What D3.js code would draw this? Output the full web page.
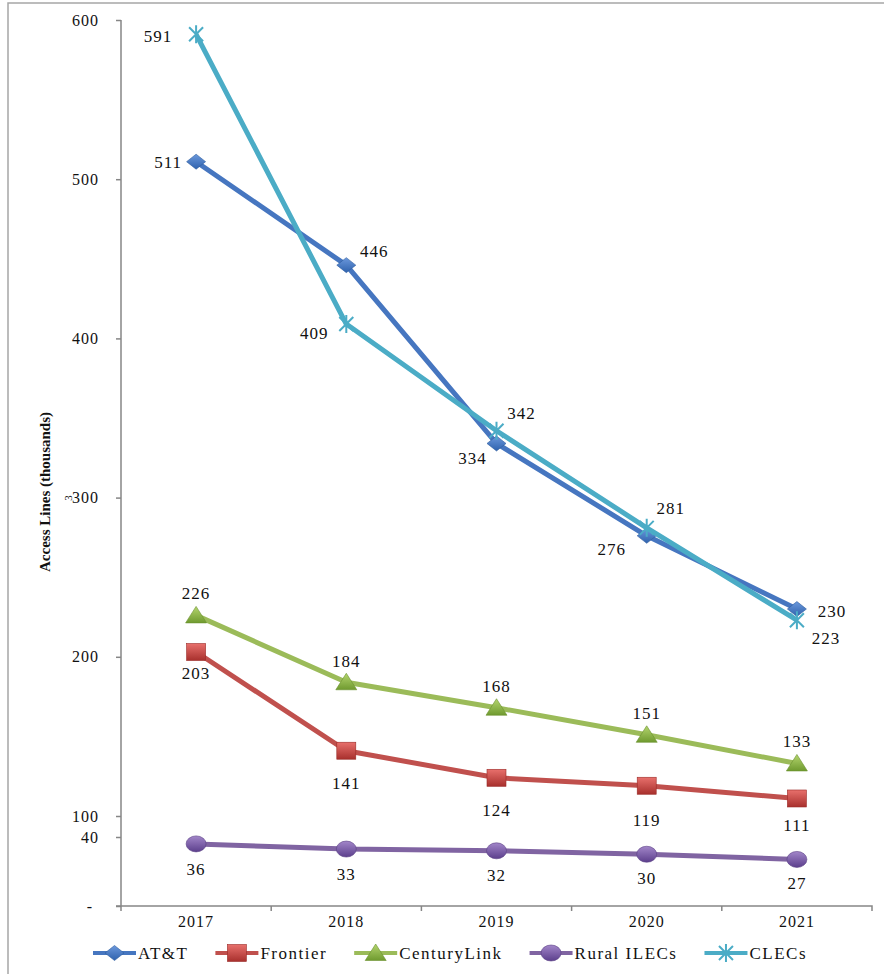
<!DOCTYPE html>
<html>
<head>
<meta charset="utf-8">
<script src="https://cdn.jsdelivr.net/npm/d3@7"></script>
<style>
  body { margin: 0; background: #fff; }
  svg { display: block; }
  svg text { font-family: "Liberation Serif", "Times New Roman", "DejaVu Serif", serif; fill: #111; }
</style>
</head>
<body>
<div id="chart"></div>
<script>
var years = ["2017", "2018", "2019", "2020", "2021"];
var att = [511, 446, 334, 276, 230];
var frontier = [203, 141, 124, 119, 111];
var centuryLink = [226, 184, 168, 151, 133];
var ruralIlecs = [36, 33, 32, 30, 27];
var clecs = [591, 409, 342, 281, 223];
var seriesNames = ["AT&T", "Frontier", "CenturyLink", "Rural ILECs", "CLECs"];
var yTicks = [0, 40, 100, 200, 300, 400, 500, 600];
var yTickLabels = ["-", "40", "100", "200", "300", "400", "500", "600"];

var w = 884, h = 974;
var colors = ["#4676c0", "#c0504d", "#9bbb59", "#8064a2", "#4bacc6"];
var allSeries = [att, frontier, centuryLink, ruralIlecs, clecs];
var serif = "'Liberation Serif', 'Times New Roman', serif";

// label offsets (dx, dy) from each point
var labelOffsets = [
  [[-28, 0], [28, -14], [-24, 15], [-35, 13], [35, 2]],
  [[0, 21], [0, 32], [0, 32], [0, 34], [0, 27]],
  [[0, -22], [0, -21], [0, -22], [0, -22], [0, -22]],
  [[0, 25], [0, 25], [0, 24], [0, 24], [0, 24]],
  [[-38, 2], [-32, 9], [25, -18], [24, -20], [29, 18]]
];

var svg = d3.select("#chart")
  .append("svg")
  .attr("width", w)
  .attr("height", h)
  .style("font-family", serif);

var defs = svg.append("defs");
var grads = [["#6b98dc", "#2f62ad"], ["#e8706c", "#a8302d"], ["#b4d56e", "#6f9a2f"],
             ["#a286c9", "#5c3f8c"], ["#4bacc6", "#4bacc6"]];
grads.forEach(function(g, i) {
  var lg = defs.append("linearGradient")
    .attr("id", "grad" + i)
    .attr("x1", 0).attr("y1", 0).attr("x2", 0).attr("y2", 1);
  lg.append("stop").attr("offset", "0%").attr("stop-color", g[0]);
  lg.append("stop").attr("offset", "100%").attr("stop-color", g[1]);
});

// outer frame
svg.append("rect")
  .attr("x", 8).attr("y", 3)
  .attr("width", w).attr("height", h + 10)
  .attr("fill", "none")
  .attr("stroke", "#a6a6a6")
  .attr("stroke-width", 1.5);

var x = d3.scaleBand()
  .domain(years)
  .range([121, 872]);

// broken value axis: 0-40 squeezed at bottom, 100-600 above
var y = d3.scaleLinear()
  .domain([0, 40, 100, 600])
  .range([906, 837, 816, 20]);

var axisColor = "#868686";

// y axis
var yAxis = svg.append("g")
  .attr("transform", "translate(121,0)")
  .call(d3.axisLeft(y).tickValues(yTicks).tickSize(5).tickPadding(17)
    .tickFormat(function(d, i) { return yTickLabels[i]; }))
  .attr("font-family", null)
  .attr("font-size", null);
yAxis.select(".domain").attr("stroke", axisColor).attr("stroke-width", 1.5).attr("d", "M0,20V906");
yAxis.selectAll(".tick line").attr("stroke", axisColor).attr("stroke-width", 1.5);
yAxis.selectAll(".tick text")
  .attr("font-size", 16)
  .attr("letter-spacing", 1)
  .attr("fill", "#111")
  .attr("dx", function(d) { return d === 0 ? -6 : 0; });

// x axis
var xAxis = svg.append("g")
  .attr("transform", "translate(0,906)")
  .call(d3.axisBottom(x).tickSize(0).tickPadding(10))
  .attr("font-family", null)
  .attr("font-size", null);
xAxis.select(".domain").attr("stroke", axisColor).attr("stroke-width", 1.5).attr("d", "M116,0H872V5");
xAxis.selectAll(".tick text")
  .attr("font-size", 16)
  .attr("letter-spacing", 1)
  .attr("fill", "#111");
svg.append("g").selectAll("line")
  .data(years)
  .enter()
  .append("line")
  .attr("x1", function(d) { return x(d); })
  .attr("x2", function(d) { return x(d); })
  .attr("y1", 906).attr("y2", 911)
  .attr("stroke", axisColor)
  .attr("stroke-width", 1.5);

// y axis title
svg.append("text")
  .attr("transform", "translate(50,492) rotate(-90)")
  .attr("text-anchor", "middle")
  .attr("font-size", 14)
  .attr("font-weight", "bold")
  .attr("textLength", 160)
  .attr("lengthAdjust", "spacingAndGlyphs")
  .text("Access Lines (thousands)");

svg.append("text")
  .attr("transform", "translate(72,498) rotate(-90)")
  .attr("text-anchor", "middle")
  .attr("font-size", 11)
  .attr("fill", "#444")
  .text("3");

function drawMarker(g, i) {
  if (i === 0) {
    g.append("path").attr("d", "M0,-7.5L9.5,0L0,7.5L-9.5,0Z")
      .attr("fill", "url(#grad0)").attr("stroke", "#2d5c9e").attr("stroke-width", 0.6);
  } else if (i === 1) {
    g.append("rect").attr("x", -9.5).attr("y", -8.5).attr("width", 19).attr("height", 17)
      .attr("fill", "url(#grad1)").attr("stroke", "#9a2a27").attr("stroke-width", 0.6);
  } else if (i === 2) {
    g.append("path").attr("d", "M0,-9L10.5,7.5L-10.5,7.5Z")
      .attr("fill", "url(#grad2)").attr("stroke", "#6a912e").attr("stroke-width", 0.6);
  } else if (i === 3) {
    g.append("ellipse").attr("rx", 10).attr("ry", 8)
      .attr("fill", "url(#grad3)").attr("stroke", "#5a3f85").attr("stroke-width", 0.6);
  } else {
    g.append("path").attr("d", "M-7,-7L7,7M-7,7L7,-7M0,-9L0,9")
      .attr("fill", "none").attr("stroke", colors[4]).attr("stroke-width", 2);
  }
}

var line = d3.line()
  .x(function(d, j) { return x(years[j]) + x.bandwidth() / 2; })
  .y(function(d) { return y(d); });

allSeries.forEach(function(values, i) {
  var g = svg.append("g");
  g.append("path")
    .datum(values)
    .attr("d", line)
    .attr("fill", "none")
    .attr("stroke", colors[i])
    .attr("stroke-width", 5)
    .attr("stroke-linejoin", "round");

  g.selectAll(".mk")
    .data(values)
    .enter()
    .append("g")
    .attr("transform", function(d, j) {
      return "translate(" + (x(years[j]) + x.bandwidth() / 2) + "," + y(d) + ")";
    })
    .each(function() { drawMarker(d3.select(this), i); });
});

// data labels on top
allSeries.forEach(function(values, i) {
  svg.append("g").selectAll("text")
    .data(values)
    .enter()
    .append("text")
    .attr("x", function(d, j) { return x(years[j]) + x.bandwidth() / 2 + labelOffsets[i][j][0]; })
    .attr("y", function(d, j) { return y(d) + labelOffsets[i][j][1]; })
    .attr("dy", "0.35em")
    .attr("text-anchor", "middle")
    .attr("font-size", 17)
    .attr("letter-spacing", 1)
    .text(function(d) { return d; });
});

// legend
var legend = svg.append("g").attr("transform", "translate(0,953)");
var lx = 93;
seriesNames.forEach(function(name, i) {
  var item = legend.append("g").attr("transform", "translate(" + lx + ",0)");
  item.append("line")
    .attr("x1", 0).attr("x2", 43)
    .attr("stroke", colors[i])
    .attr("stroke-width", 4);
  var mk = item.append("g").attr("transform", "translate(21.5,0)");
  drawMarker(mk, i);
  var t = item.append("text")
    .attr("x", 45)
    .attr("dy", "0.35em")
    .attr("font-size", 17)
    .attr("letter-spacing", 1.5)
    .text(name);
  lx += 45 + t.node().getComputedTextLength() + 27;
});
</script>
</body>
</html>
